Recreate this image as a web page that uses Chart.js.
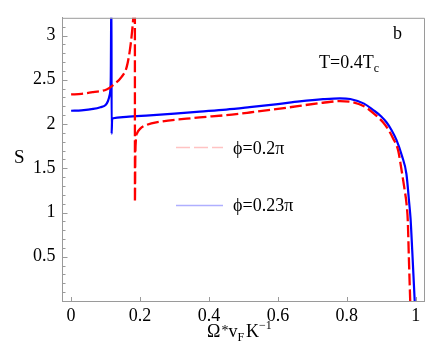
<!DOCTYPE html>
<html>
<head>
<meta charset="utf-8">
<script src="https://cdn.jsdelivr.net/npm/chart.js@4/dist/chart.umd.min.js"></script>
<style>
  html, body { margin: 0; padding: 0; background: #fff; }
  #wrap { width: 436px; height: 353px; }
</style>
</head>
<body>
<div id="wrap"><canvas id="c" width="436" height="353"></canvas></div>
<script>
// phi = 0.23 pi (blue, solid)
var blueX = [0, 0.03, 0.064, 0.085, 0.1, 0.107, 0.112, 0.115, 0.117, 0.1175, 0.119, 0.122, 0.16, 0.228, 0.3, 0.373, 0.45, 0.518, 0.6, 0.663, 0.731, 0.78, 0.81, 0.85, 0.876, 0.9, 0.915, 0.93, 0.944, 0.96, 0.973, 0.981, 0.985, 0.99, 0.997];
var blueY = [2.15, 2.155, 2.17, 2.19, 2.215, 2.26, 2.33, 2.5, 3.6, 1.89, 2.05, 2.065, 2.08, 2.098, 2.118, 2.14, 2.163, 2.19, 2.225, 2.255, 2.28, 2.29, 2.282, 2.23, 2.16, 2.085, 2.02, 1.93, 1.82, 1.64, 1.435, 1.11, 0.93, 0.56, 0];
// phi = 0.2 pi (red, dashed)
var redX = [0, 0.03, 0.064, 0.103, 0.122, 0.146, 0.161, 0.17, 0.177, 0.181, 0.184, 0.185, 0.1852, 0.1862, 0.188, 0.192, 0.2, 0.219, 0.257, 0.335, 0.373, 0.45, 0.518, 0.6, 0.663, 0.731, 0.78, 0.81, 0.85, 0.876, 0.905, 0.92, 0.934, 0.949, 0.958, 0.968, 0.973, 0.977, 0.98, 0.984];
var redY = [2.334, 2.34, 2.36, 2.39, 2.44, 2.53, 2.64, 2.82, 3.05, 3.25, 3.6, 4.2, 1.12, 1.6, 1.82, 1.9, 1.945, 1.99, 2.025, 2.06, 2.075, 2.1, 2.13, 2.17, 2.205, 2.24, 2.258, 2.252, 2.2, 2.127, 2.02, 1.94, 1.84, 1.7, 1.5, 1.25, 1.11, 0.9, 0.5, 0];

var xTicks = [0, 0.2, 0.4, 0.6, 0.8, 1];
var yTicks = [0.5, 1, 1.5, 2, 2.5, 3];
var legendLabels = ['\u03d5=0.2\u03c0', '\u03d5=0.23\u03c0'];

var SERIF = '"Liberation Serif", "DejaVu Serif", serif';
var FRAME = '#9a9a9a';

function pts(xs, ys) {
  return xs.map(function (x, i) { return { x: x, y: ys[i] }; });
}

// inner ticks, frame, legend and labels
var decor = {
  id: 'decor',
  afterDatasetsDraw: function (chart) {
    var ctx = chart.ctx, a = chart.chartArea;
    var xs = chart.scales.x, ys = chart.scales.y;
    ctx.save();
    ctx.strokeStyle = FRAME;
    ctx.lineWidth = 1;
    ctx.beginPath();
    ctx.moveTo(a.left, a.top + 0.5); ctx.lineTo(a.right + 0.5, a.top + 0.5);
    ctx.lineTo(a.right + 0.5, a.bottom);
    ctx.stroke();

    ctx.beginPath();
    xTicks.forEach(function (v) {
      var px = Math.round(xs.getPixelForValue(v)) + 0.5;
      ctx.moveTo(px, a.bottom); ctx.lineTo(px, a.bottom - 4);
    });
    for (var i = 1; i <= 31; i++) {
      var v = i / 10;
      var py = Math.round(ys.getPixelForValue(v)) + 0.5;
      var len = (i % 5 === 0) ? 5 : 3;
      ctx.moveTo(a.left, py); ctx.lineTo(a.left + len, py);
    }
    ctx.stroke();

    // legend
    ctx.lineWidth = 1.5;
    ctx.strokeStyle = 'rgb(255,195,195)';
    ctx.setLineDash([14, 4]);
    ctx.beginPath(); ctx.moveTo(176, 147.5); ctx.lineTo(223, 147.5); ctx.stroke();
    ctx.setLineDash([]);
    ctx.strokeStyle = 'rgb(175,175,255)';
    ctx.beginPath(); ctx.moveTo(176, 205.5); ctx.lineTo(223, 205.5); ctx.stroke();

    ctx.fillStyle = '#000';
    ctx.textBaseline = 'alphabetic';
    ctx.textAlign = 'left';
    ctx.font = '18px ' + SERIF;
    ctx.fillText(legendLabels[0], 233, 154);
    ctx.fillText(legendLabels[1], 233, 211);

    // annotations
    ctx.fillText('b', 393, 39);
    var x0 = 319;
    ctx.fillText('T=0.4T', x0, 68);
    var w = ctx.measureText('T=0.4T').width;
    ctx.font = '12px ' + SERIF;
    ctx.fillText('c', x0 + w, 72);

    // y title
    ctx.font = '19px ' + SERIF;
    ctx.fillText('S', 14, 163);

    // x title: Omega * v_F K^-1
    var bx = 207, by = 337;
    ctx.font = '18px ' + SERIF;
    ctx.fillText('\u03a9', bx, by); bx += ctx.measureText('\u03a9').width + 1;
    ctx.font = '14px ' + SERIF;
    ctx.fillText('*', bx, by - 2); bx += ctx.measureText('*').width;
    ctx.font = '18px ' + SERIF;
    ctx.fillText('v', bx, by); bx += ctx.measureText('v').width;
    ctx.font = '12px ' + SERIF;
    ctx.fillText('F', bx, by + 4); bx += ctx.measureText('F').width + 2;
    ctx.font = '18px ' + SERIF;
    ctx.fillText('K', bx, by); bx += ctx.measureText('K').width;
    ctx.font = '12px ' + SERIF;
    ctx.fillText('\u22121', bx, by - 8);
    ctx.restore();
  }
};

new Chart(document.getElementById('c'), {
  type: 'scatter',
  data: {
    datasets: [
      {
        label: legendLabels[0],
        data: pts(redX, redY),
        showLine: true,
        borderColor: 'rgb(255,0,0)',
        borderWidth: 2.3,
        borderDash: [12, 4],
        pointRadius: 0,
        cubicInterpolationMode: 'monotone',
        fill: false
      },
      {
        label: legendLabels[1],
        data: pts(blueX, blueY),
        showLine: true,
        borderColor: 'rgb(0,0,255)',
        borderWidth: 2.2,
        pointRadius: 0,
        cubicInterpolationMode: 'monotone',
        fill: false
      }
    ]
  },
  options: {
    responsive: false,
    animation: false,
    events: [],
    layout: { padding: { top: 8, right: 12, left: 0, bottom: 0 } },
    plugins: { legend: { display: false }, tooltip: { enabled: false } },
    scales: {
      x: {
        type: 'linear',
        min: -0.025,
        max: 1.024,
        afterBuildTicks: function (s) { s.ticks = xTicks.map(function (v) { return { value: v }; }); },
        afterFit: function (s) { s.height = 52; },
        grid: { drawOnChartArea: false, drawTicks: false },
        border: { color: FRAME, width: 1 },
        ticks: {
          color: '#000',
          padding: 4,
          maxRotation: 0,
          font: { family: SERIF, size: 18 },
          callback: function (v) { return String(v); }
        }
      },
      y: {
        type: 'linear',
        min: 0,
        max: 3.2,
        afterBuildTicks: function (s) { s.ticks = yTicks.map(function (v) { return { value: v }; }); },
        afterFit: function (s) { s.width = 62.5; },
        grid: { drawOnChartArea: false, drawTicks: false },
        border: { color: FRAME, width: 1 },
        ticks: {
          color: '#000',
          padding: 7,
          font: { family: SERIF, size: 18 },
          callback: function (v) { return String(v); }
        }
      }
    }
  },
  plugins: [decor]
});
</script>
</body>
</html>
